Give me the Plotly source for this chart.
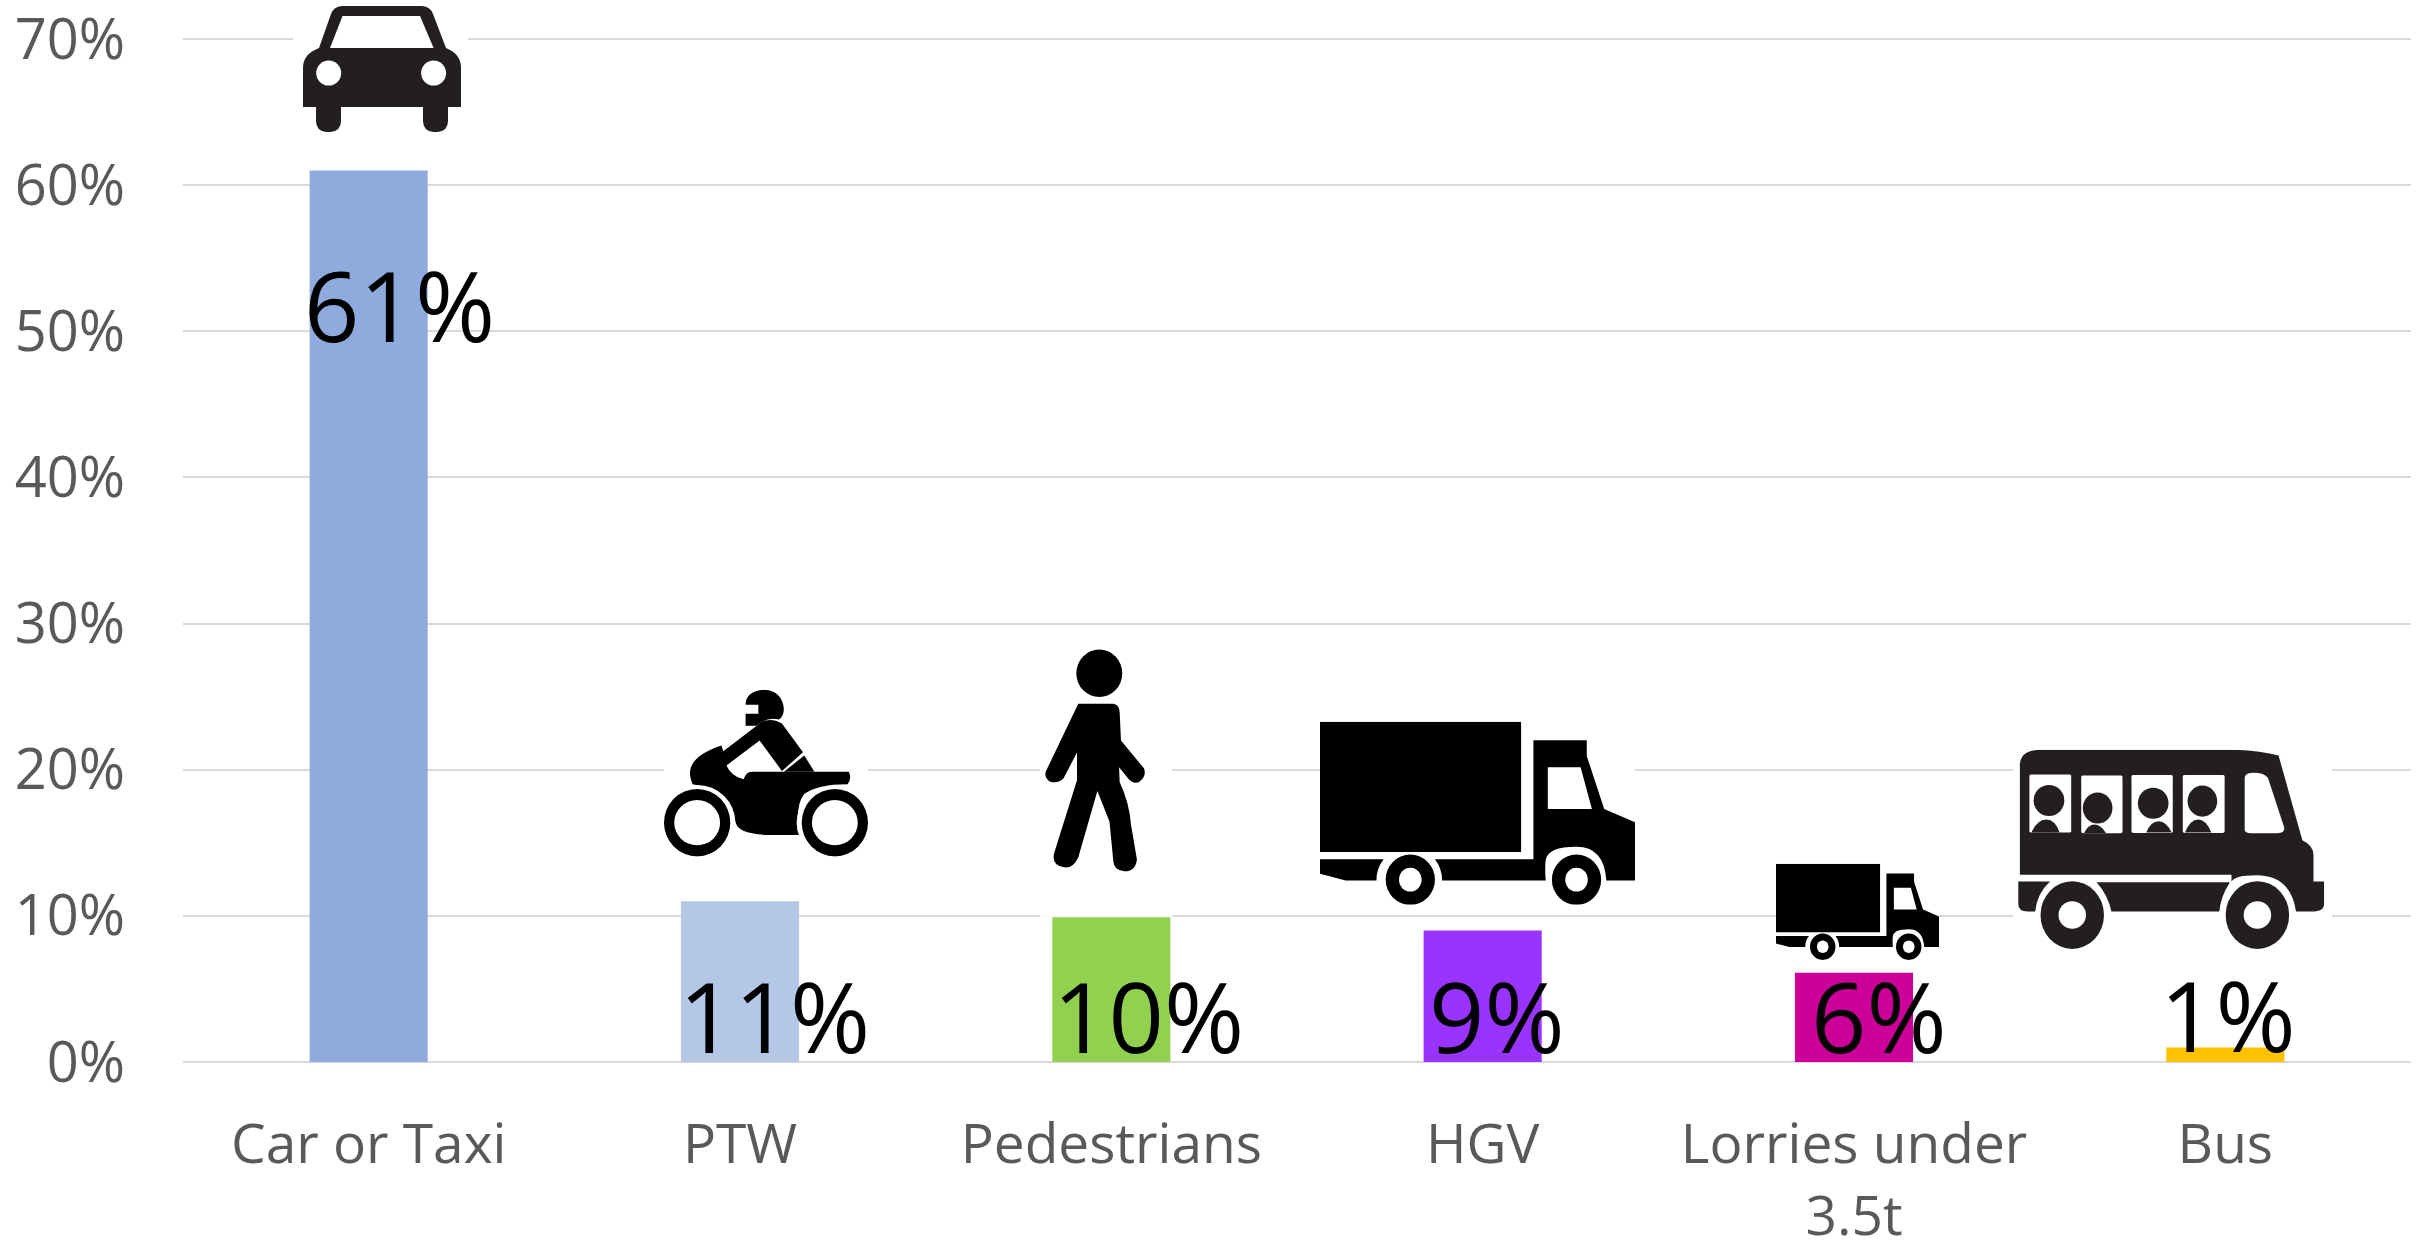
import base64
import plotly.graph_objects as go

categories = ["Car or Taxi", "PTW", "Pedestrians", "HGV", "Lorries under<br>3.5t", "Bus"]
values = [61, 11, 9.9, 9, 6.1, 1]
labels = ["61%", "11%", "10%", "9%", "6%", "1%"]
y_ticks = [0, 10, 20, 30, 40, 50, 60, 70]
y_tick_labels = ["0%", "10%", "20%", "30%", "40%", "50%", "60%", "70%"]
colors = ["#8FAADC", "#B4C7E7", "#92D050", "#9933FF", "#CC0099", "#FFC000"]

W, H = 2430, 1241
L, R, T, B = 183, 19, 39, 179
PW, PH = W - L - R, H - T - B

label_xshift = [31, 34, 37, 14, 25, 3]
label_y = [51.9, 3.2, 3.2, 3.2, 3.2, 3.3]
LABEL_SIZE = 97
TICK_SIZE = 56
CAT_SIZE = 55
FONT = "Open Sans"
DARK = "#231F20"

car = f'''<path fill="{DARK}" d="M10 101V62Q10 48 26 42L38 8Q41 0 50 0H128Q137 0 140 8L153 42Q168 48 168 62V101H155V115Q155 126 142.5 126Q130 126 130 115V101H48V115Q48 126 35.5 126Q23 126 23 115V101Z"/>
<path fill="#fff" d="M49.5 10H127L140.6 42H37Z"/><circle cx="35.7" cy="67" r="12.5" fill="#fff"/><circle cx="140.6" cy="67" r="12.5" fill="#fff"/>'''

moto = '''<path d="M145 415C135 380 140 345 190 318L193 332L250 262Q265 245 285 262L318 335L285 382L250 305L198 368Q205 395 225 403Q228 385 238 384H390Q395 400 388 415Q340 415 320 440Q305 470 312 543H260Q215 540 212 510Q205 430 145 415Z"/>
<path d="M320 343L336 384H288Z"/>
<path d="M258 177Q285 180 288 225Q288 245 280 252Q262 245 245 268H228V238H248V215H228Q228 180 258 177Z"/>
<ellipse cx="152" cy="512" rx="60" ry="95" fill="#fff"/><ellipse cx="368" cy="512" rx="60" ry="95" fill="#fff"/>
<ellipse cx="152" cy="512" rx="52" ry="85"/><ellipse cx="368" cy="512" rx="52" ry="85"/>
<ellipse cx="152" cy="512" rx="36" ry="57" fill="#fff"/><ellipse cx="368" cy="512" rx="36" ry="57" fill="#fff"/>'''

walker = '''<ellipse cx="783" cy="135" rx="36" ry="60"/>
<path d="M750 212H805Q815 215 815 235L817 305L853 375Q858 395 845 410Q835 415 828 400L814 372L815 410Q830 460 833 520L842 605Q840 635 822 635Q806 632 805 610L799 510L780 432L750 600Q742 628 728 625Q708 620 712 590L748 405L748 335L727 400Q718 415 705 408Q695 395 700 380Z"/>'''

truck = '''<path d="M333 473H529V670H333Z"/>
<path d="M541 501H593V525L610 605L640 625V713H612Q610 662 583 662Q555 662 553 682H541Z"/>
<path fill="#fff" d="M555 542H587L598 605H555Z"/>
<path d="M333 681H395Q388 695 388 713H358L333 703Z"/>
<path d="M445 681H553Q552 695 553 713H452Q452 695 445 681Z"/>
<ellipse cx="421" cy="712" rx="24" ry="38"/><ellipse cx="583" cy="712" rx="24" ry="38"/>
<ellipse cx="421" cy="712" rx="11" ry="18" fill="#fff"/><ellipse cx="583" cy="712" rx="11" ry="18" fill="#fff"/>'''

bus = f'''<g fill="{DARK}">
<path d="M793 505V185Q795 143 835 143H1200Q1250 146 1282 160L1327 405Q1347 420 1348 445V525H1368V590Q1368 612 1345 612H1315Q1305 507 1240 507Q1200 507 1193 525V505Z"/>
<path d="M790 525H850Q825 560 822 612H808Q790 612 790 590Z"/>
<path d="M938 527H1190Q1172 570 1170 612H966Q960 565 938 527Z"/>
<ellipse cx="892" cy="622" rx="60" ry="98"/><ellipse cx="1242" cy="622" rx="60" ry="98"/>
</g>
<g fill="#fff">
<ellipse cx="892" cy="622" rx="26" ry="40"/><ellipse cx="1242" cy="622" rx="26" ry="40"/>
<rect x="811" y="215" width="79" height="168" rx="4"/><rect x="909" y="218" width="78" height="167" rx="4"/>
<rect x="1004" y="216" width="78" height="168" rx="4"/><rect x="1101" y="216" width="79" height="168" rx="4"/>
<path d="M1218 225Q1218 210 1235 210Q1255 210 1262 225L1293 370Q1293 385 1280 385H1230Q1218 385 1218 375Z"/>
</g>
<g fill="{DARK}">
<ellipse cx="848" cy="290" rx="29" ry="45"/><path d="M815 383Q825 345 843 345Q860 345 868 383Z"/>
<ellipse cx="940" cy="312" rx="28" ry="45"/><path d="M914 385Q922 360 934 360Q946 360 956 385Z"/>
<ellipse cx="1045" cy="298" rx="29" ry="45"/><path d="M1032 383Q1040 350 1055 350Q1070 350 1080 383Z"/>
<ellipse cx="1138" cy="292" rx="28" ry="45"/><path d="M1105 383Q1115 345 1130 345Q1145 345 1155 383Z"/>
</g>'''

# name: svg body, viewBox, page box (x0, y0, x1, y1)
icons = [
    (car, "0 0 175 126", (293, 7, 468, 133)),
    (moto, "100 177 320 421", (664, 690, 868, 857)),
    (walker, "690 60 207 690", (1040, 644, 1172, 917)),
    (truck, "333 473 307 277", (1320, 722, 1635, 905)),
    (truck, "333 473 307 277", (1776, 864, 1939, 960)),
    (bus, "780 143 603 577", (2013, 750, 2332, 949)),
]


def icon_image(body, vb, box):
    x0, y0, x1, y1 = box
    w, h = x1 - x0, y1 - y0
    svg = (f'<svg xmlns="http://www.w3.org/2000/svg" width="{w}" height="{h}" viewBox="{vb}" '
           f'preserveAspectRatio="none"><rect x="-9999" y="-9999" width="29999" height="29999" fill="#fff"/>{body}</svg>')
    src = "data:image/svg+xml;base64," + base64.b64encode(svg.encode()).decode()
    return dict(source=src, xref="paper", yref="paper", x=(x0 - L) / PW, y=1 - (y0 - T) / PH,
                sizex=w / PW, sizey=h / PH, xanchor="left", yanchor="top",
                sizing="stretch", layer="above")


fig = go.Figure(go.Bar(x=categories, y=values, marker=dict(color=colors, line_width=0), hoverinfo="skip"))

for c, lab, dx, ly in zip(categories, labels, label_xshift, label_y):
    fig.add_annotation(x=c, y=ly, text=lab, showarrow=False, xshift=dx, yanchor="middle", xanchor="center",
                       font=dict(family=FONT, size=LABEL_SIZE, color="#000000"))

fig.update_layout(
    template="none",
    width=W, height=H, autosize=False,
    margin=dict(l=L, r=R, t=T - 1, b=B, pad=0),
    paper_bgcolor="#FFFFFF", plot_bgcolor="#FFFFFF",
    bargap=0.682, showlegend=False,
    font=dict(family=FONT, color="#595959"),
    images=[icon_image(*i) for i in icons],
)
fig.update_xaxes(type="category", automargin=False, tickfont=dict(family=FONT, size=CAT_SIZE, color="#595959"),
                 ticks="", showgrid=False, showline=False, zeroline=False, ticklabelstandoff=45, tickangle=0,
                 ticklabeloverflow="allow",
                 categoryorder="array", categoryarray=categories)
fig.update_yaxes(range=[0, 70.07], automargin=False, tickmode="array", tickvals=y_ticks, ticktext=y_tick_labels, ticks="",
                 tickfont=dict(family=FONT, size=TICK_SIZE, color="#595959"),
                 showgrid=True, gridcolor="#D9D9D9", gridwidth=2,
                 zeroline=True, zerolinecolor="#D9D9D9", zerolinewidth=2,
                 showline=False, ticklabelstandoff=57, ticklabeloverflow="allow")

fig.write_html("out.html", config=dict(displayModeBar=False),
               post_script="document.body.style.margin='0';document.body.style.overflow='hidden';")
